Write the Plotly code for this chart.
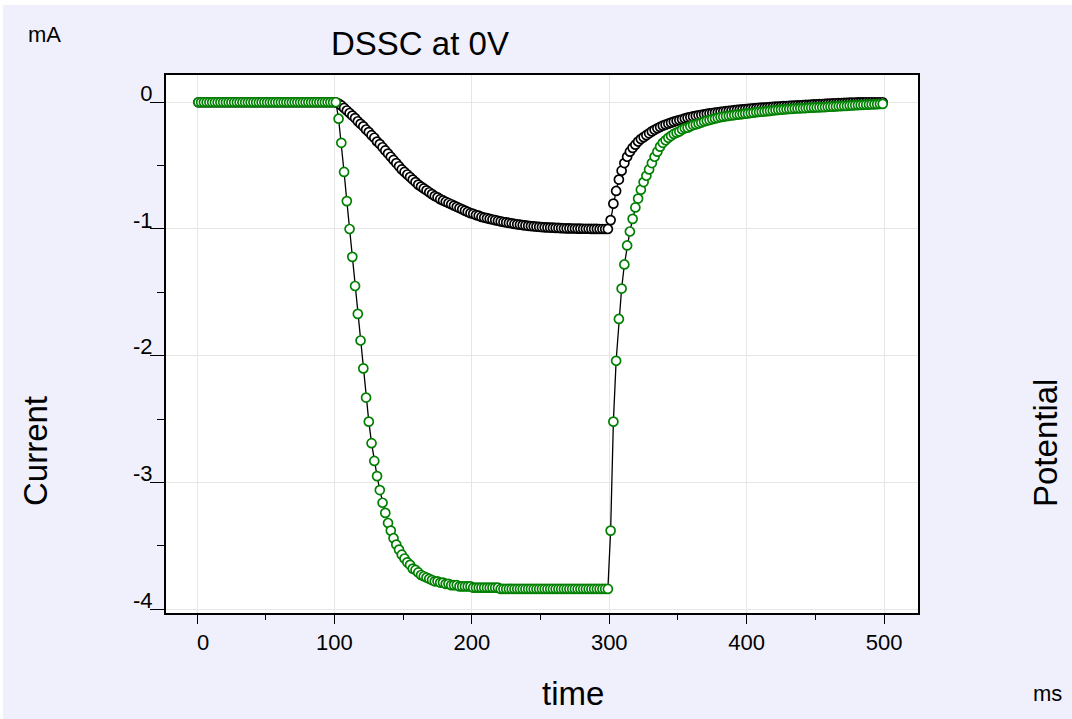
import plotly.graph_objects as go

# sample times (ms)
time_ms = list(range(1, 500, 2))

# ---- black series (current) ----
black_before = [
    0, 0, 0, 0, 0, 0, 0, 0, 0, 0,
    0, 0, 0, 0, 0, 0, 0, 0, 0, 0,
    0, 0, 0, 0, 0, 0, 0, 0, 0, 0,
    0, 0, 0, 0, 0, 0, 0, 0, 0, 0,
    0, 0, 0, 0, 0, 0, 0, 0, 0, 0,
    0,
]
black_on = [
    -0.01, -0.025, -0.045, -0.065, -0.085, -0.105, -0.125, -0.15, -0.17, -0.19,
    -0.215, -0.235, -0.26, -0.28, -0.31, -0.33, -0.355, -0.38, -0.405, -0.43,
    -0.455, -0.48, -0.505, -0.53, -0.55, -0.57, -0.59, -0.61, -0.63, -0.65,
    -0.665, -0.68, -0.695, -0.71, -0.725, -0.74, -0.75, -0.765, -0.775, -0.785,
    -0.795, -0.805, -0.815, -0.825, -0.835, -0.845, -0.855, -0.865, -0.875, -0.88,
    -0.89, -0.895, -0.905, -0.91, -0.915, -0.92, -0.925, -0.93, -0.935, -0.94,
    -0.945, -0.948, -0.952, -0.955, -0.96, -0.963, -0.966, -0.969, -0.972, -0.975,
    -0.977, -0.979, -0.981, -0.983, -0.985, -0.987, -0.988, -0.989, -0.99, -0.991,
    -0.992, -0.993, -0.994, -0.995, -0.995, -0.996, -0.996, -0.997, -0.997, -0.998,
    -0.998, -0.998, -0.999, -0.999, -0.999, -1.0, -1.0, -1.0, -1.0,
]
black_off = [
    -0.93, -0.80, -0.70, -0.61, -0.54, -0.48, -0.43, -0.39, -0.36, -0.335,
    -0.31, -0.29, -0.275, -0.26, -0.245, -0.23, -0.217, -0.205, -0.195, -0.185,
    -0.177, -0.169, -0.161, -0.153, -0.146, -0.14, -0.134, -0.128, -0.122, -0.117,
    -0.112, -0.107, -0.103, -0.099, -0.095, -0.091, -0.088, -0.085, -0.082, -0.079,
    -0.076, -0.073, -0.07, -0.067, -0.065, -0.062, -0.06, -0.058, -0.056, -0.054,
    -0.052, -0.05, -0.048, -0.047, -0.045, -0.043, -0.042, -0.04, -0.038, -0.037,
    -0.035, -0.034, -0.033, -0.031, -0.03, -0.029, -0.027, -0.026, -0.025, -0.024,
    -0.022, -0.021, -0.02, -0.018, -0.017, -0.016, -0.015, -0.014, -0.012, -0.011,
    -0.01, -0.009, -0.008, -0.007, -0.006, -0.005, -0.004, -0.003, -0.002, -0.002,
    -0.001, -0.001, -0.001, 0.0, 0.0, 0.0, 0.0, 0.0, 0.0, 0.0,
]

# ---- green series (current) ----
green_before = [
    0, 0, 0, 0, 0, 0, 0, 0, 0, 0,
    0, 0, 0, 0, 0, 0, 0, 0, 0, 0,
    0, 0, 0, 0, 0, 0, 0, 0, 0, 0,
    0, 0, 0, 0, 0, 0, 0, 0, 0, 0,
    0, 0, 0, 0, 0, 0, 0, 0, 0, 0,
    0,
]
green_on = [
    -0.13, -0.32, -0.55, -0.78, -1.00, -1.22, -1.45, -1.67, -1.88, -2.10,
    -2.33, -2.52, -2.69, -2.83, -2.95, -3.06, -3.16, -3.24, -3.32, -3.38,
    -3.44, -3.49, -3.53, -3.57, -3.60, -3.63, -3.65, -3.68, -3.69, -3.71,
    -3.73, -3.74, -3.75, -3.76, -3.77, -3.78, -3.78, -3.79, -3.79, -3.80,
    -3.80, -3.81, -3.81, -3.81, -3.82, -3.82, -3.82, -3.82, -3.82,
    -3.83, -3.83, -3.83, -3.83, -3.83, -3.83, -3.83, -3.83, -3.83, -3.83,
    -3.84, -3.84, -3.84, -3.84, -3.84, -3.84, -3.84, -3.84, -3.84, -3.84,
    -3.84, -3.84, -3.84, -3.84, -3.84, -3.84, -3.84, -3.84, -3.84, -3.84,
    -3.84, -3.84, -3.84, -3.84, -3.84, -3.84, -3.84, -3.84, -3.84, -3.84,
    -3.84, -3.84, -3.84, -3.84, -3.84, -3.84, -3.84, -3.84, -3.84, -3.84,
]
green_off = [
    -3.38, -2.52, -2.04, -1.71, -1.47, -1.28, -1.13, -1.02, -0.92, -0.83,
    -0.76, -0.69, -0.63, -0.58, -0.53, -0.48, -0.43, -0.39, -0.35, -0.32,
    -0.30, -0.28, -0.265, -0.25, -0.24, -0.23, -0.215, -0.205, -0.20, -0.19,
    -0.18, -0.175, -0.168, -0.16, -0.152, -0.145, -0.14, -0.133, -0.128, -0.123,
    -0.118, -0.114, -0.11, -0.107, -0.104, -0.101, -0.098, -0.096, -0.093, -0.09,
    -0.088, -0.085, -0.082, -0.079, -0.077, -0.075, -0.073, -0.07, -0.068, -0.065,
    -0.062, -0.06, -0.058, -0.056, -0.055, -0.053, -0.052, -0.05, -0.049, -0.048,
    -0.047, -0.046, -0.044, -0.043, -0.042, -0.041, -0.04, -0.039, -0.038, -0.036,
    -0.035, -0.034, -0.033, -0.031, -0.03, -0.029, -0.028, -0.026, -0.025, -0.023,
    -0.022, -0.021, -0.02, -0.019, -0.018, -0.017, -0.016, -0.015, -0.014, -0.013,
]

black_current = black_before + black_on + black_off
green_current = green_before + green_on + green_off

x_tick_vals = [0, 100, 200, 300, 400, 500]
x_tick_text = ["\u00a0\u00a00", "100", "200", "300", "400", "500"]
y_tick_vals = [0, -1, -2, -3, -4]
y_tick_text = ["0", "-1", "-2", "-3", "-4"]

W, H = 1072, 719
ML, MR, MT, MB = 166, 154, 75, 106
PW, PH = W - ML - MR, H - MT - MB
FONT = "Liberation Sans, Arial, sans-serif"
LAVENDER = "#F0F0FC"


def px(xp):
    return (xp - ML) / PW


def py(yp):
    return (H - MB - yp) / PH


fig = go.Figure()
fig.add_trace(go.Scatter(
    x=time_ms, y=black_current, mode="lines+markers",
    line=dict(color="black", width=1.3),
    marker=dict(symbol="circle", size=9, color="white",
                line=dict(color="black", width=1.7)),
    showlegend=False,
))
fig.add_trace(go.Scatter(
    x=time_ms, y=green_current, mode="lines+markers",
    line=dict(color="black", width=1.3),
    marker=dict(symbol="circle", size=9, color="white",
                line=dict(color="#008000", width=1.7)),
    showlegend=False,
))

axis_common = dict(
    showline=True, linecolor="black", linewidth=2, mirror=True,
    showgrid=True, gridcolor="#E6E6E6", gridwidth=1, zeroline=False,
    ticks="outside", tickcolor="black", tickwidth=1,
    tickfont=dict(family=FONT, size=22, color="black"),
)

fig.update_xaxes(
    range=[-22.6, 524.7], tickmode="array",
    tickvals=x_tick_vals, ticktext=x_tick_text, ticklen=9,
    minor=dict(ticks="outside", dtick=50, ticklen=5, tickcolor="black", showgrid=False),
    **axis_common,
)
fig.update_yaxes(
    range=[-4.03, 0.215], tickmode="array",
    tickvals=y_tick_vals, ticktext=y_tick_text, ticklen=14,
    ticklabelshift=-9, ticklabelstandoff=-7,
    minor=dict(ticks="outside", dtick=0.5, ticklen=7, tickcolor="black", showgrid=False),
    **axis_common,
)

annotations = [
    dict(text="DSSC at 0V", x=px(420), y=py(44), size=33, angle=0),
    dict(text="mA", x=px(44.5), y=py(35), size=22, angle=0),
    dict(text="ms", x=px(1047), y=py(693), size=22, angle=0),
    dict(text="time", x=px(573), y=py(693), size=33, angle=0),
    dict(text="Current", x=px(35), y=py(451), size=33, angle=-90),
    dict(text="Potential", x=px(1045), y=py(443), size=33, angle=-90),
]
for a in annotations:
    fig.add_annotation(
        text=a["text"], x=a["x"], y=a["y"], xref="paper", yref="paper",
        xanchor="center", yanchor="middle", showarrow=False,
        textangle=a["angle"], font=dict(family=FONT, size=a["size"], color="black"),
    )

# thin white edge along the top and left of the page
fig.add_shape(type="rect", xref="paper", yref="paper",
              x0=px(0), x1=px(W), y0=py(5), y1=py(0),
              fillcolor="white", line=dict(width=0), layer="above")
fig.add_shape(type="rect", xref="paper", yref="paper",
              x0=px(0), x1=px(3), y0=py(H), y1=py(0),
              fillcolor="white", line=dict(width=0), layer="above")

fig.update_layout(
    width=W, height=H,
    margin=dict(l=ML, r=MR, t=MT, b=MB, pad=0),
    paper_bgcolor=LAVENDER, plot_bgcolor="white",
    font=dict(family=FONT, color="black"),
    showlegend=False,
)

fig.write_html("out.html", config={"displayModeBar": False},
               post_script="document.body.style.margin='0px';")
